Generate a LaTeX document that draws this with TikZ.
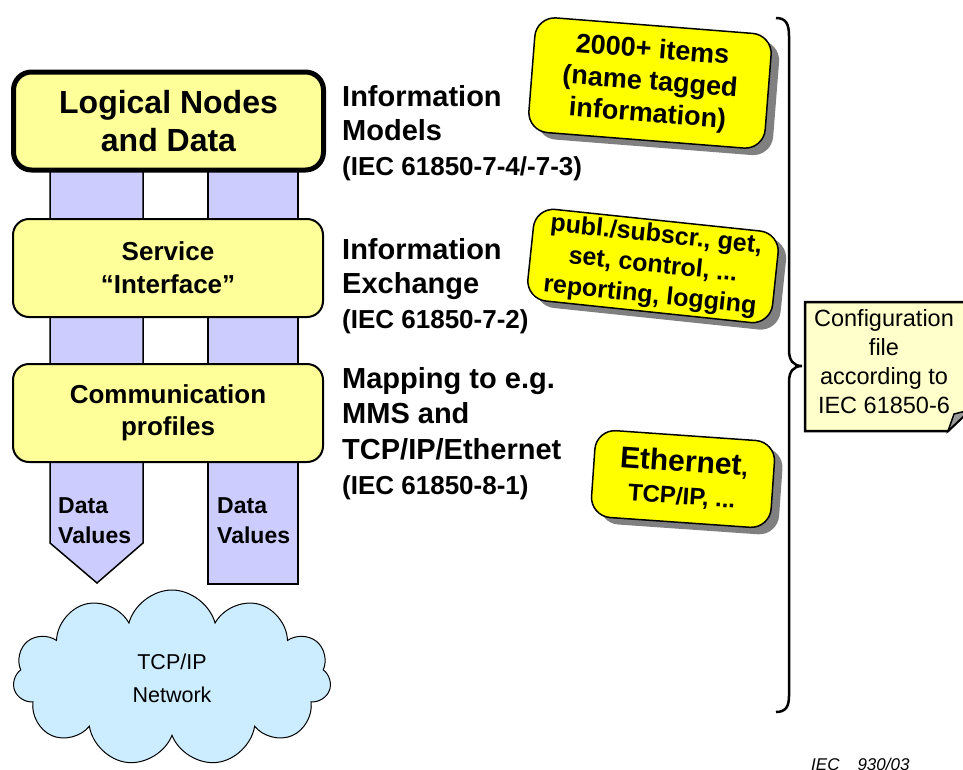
\documentclass[tikz,border=0pt]{standalone}
\usepackage{fontspec}
\setmainfont{Liberation Sans}
\usepackage{tikz}
\usetikzlibrary{shapes.symbols}
\usetikzlibrary{shadows}
\definecolor{layerfill}{HTML}{FFFF99}
\definecolor{pipefill}{HTML}{CCCCFF}
\definecolor{tagfill}{HTML}{FFFF00}
\definecolor{cloudfill}{HTML}{CCECFF}
\definecolor{notefill}{HTML}{FFFFCC}
\tikzset{layer/.style={draw=black,line width=2pt,rounded corners=16pt,fill=layerfill,inner sep=0pt,align=center,minimum width=310pt,minimum height=98pt}}
\tikzset{pipe/.style={draw=black,line width=1.5pt,fill=pipefill}}
\tikzset{tagbox/.style={draw=black,line width=1.5pt,rounded corners=20pt,fill=tagfill,inner sep=0pt,align=center,
  drop shadow={shadow xshift=8pt,shadow yshift=-7pt,fill=black!50,opacity=1}}}
\tikzset{model/.style={anchor=north west,inner sep=0pt,align=left,font=\fontsize{29}{34.5}\selectfont\bfseries}}
\tikzset{pipetext/.style={anchor=north west,inner sep=0pt,align=left,font=\fontsize{23}{30}\selectfont\bfseries}}

\begin{document}
\begin{tikzpicture}[x=1pt,y=-1pt]
\useasboundingbox (0,0) rectangle (963,769);

% data pipes behind the layers
\draw[pipe] (50,165) -- (143,165) -- (143,543) -- (97,583) -- (50,543) -- cycle;
\draw[pipe] (208,165) rectangle (298,584);

% layers
\node[layer,line width=5pt,rounded corners=18pt,font=\fontsize{32}{38}\selectfont\bfseries] (lnd) at (168.5,121) {Logical Nodes\\and Data};
\node[layer,font=\fontsize{26}{33}\selectfont\bfseries] (srv) at (168,268) {Service\\“Interface”};
\node[layer,font=\fontsize{26}{32}\selectfont\bfseries] (com) at (168,413) {Communication\\profiles};

\foreach \x/\n in {58/dvL,217/dvR}
{
	\node[pipetext] (\n) at (\x,497) {Data\\Values};
}

% network
\node[cloud,cloud puffs=11,aspect=1.8,draw=black,line width=1pt,fill=cloudfill,minimum width=318pt,minimum height=176pt,inner sep=0pt,align=center,font=\fontsize{21.5}{33}\selectfont] (net) at (172,678) {TCP/IP\\Network};

% model texts
\node[model] (infomod) at (342,85) {Information\\Models\\{\fontsize{26}{34}\selectfont (IEC 61850-7-4/-7-3)}};
\node[model] (infoex) at (342,238) {Information\\Exchange\\{\fontsize{26}{34}\selectfont (IEC 61850-7-2)}};
\node[model,font=\fontsize{29}{35.5}\selectfont\bfseries] (mapping) at (342,367) {Mapping to e.g.\\MMS and\\TCP/IP/Ethernet\\{\fontsize{26}{34}\selectfont (IEC 61850-8-1)}};

% tagged boxes
\node[tagbox,rotate=-4.5,minimum width=237pt,minimum height=115pt,font=\fontsize{27}{32}\selectfont\bfseries] (items) at (650,83) {2000+ items\\(name tagged\\information)};
\node[tagbox,rotate=-6,minimum width=246pt,minimum height=92pt,font=\fontsize{25}{30.5}\selectfont\bfseries] (services) at (653,266) {publ./subscr., get,\\set, control, ...\\reporting, logging};
\node[tagbox,rotate=-4,minimum width=180pt,minimum height=87pt,font=\fontsize{24}{33}\selectfont\bfseries] (stack) at (683,479) {{\fontsize{30}{33}\selectfont Ethernet},\\TCP/IP, ...};

% brace
\draw[line width=2.5pt] (776,18) .. controls (786,18) and (789,24) .. (789,36) -- (789,350)
  .. controls (789,360) and (793,366) .. (802,366) .. controls (793,366) and (789,372) .. (789,382)
  -- (789,696) .. controls (789,706) and (786,712) .. (776,712);

% configuration note
\draw[line width=2.5pt,fill=notefill] (805,302) -- (970,302) -- (970,410) -- (948,431) -- (805,431) -- cycle;
\draw[line width=1.5pt,fill=black!40] (948,431) -- (954,414) -- (970,410) -- cycle;
\node[align=center,inner sep=0pt,font=\fontsize{23.5}{29}\selectfont] (cfg) at (884,362) {Configuration\\file\\according to\\IEC 61850-6};

\node[anchor=north west,inner sep=0pt,font=\fontsize{17}{17}\selectfont\itshape] (figid) at (811,758) {IEC\hspace{18pt}930/03};
\end{tikzpicture}
\end{document}
